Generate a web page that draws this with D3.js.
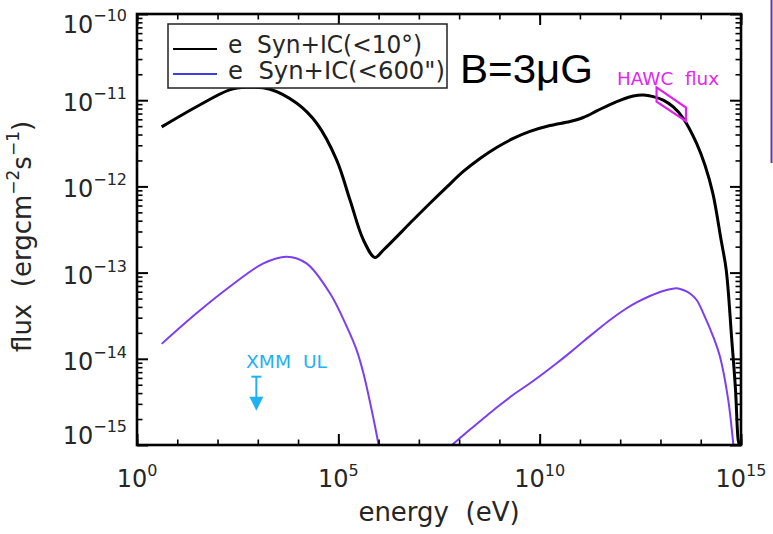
<!DOCTYPE html>
<html>
<head>
<meta charset="utf-8">
<script src="https://cdn.jsdelivr.net/npm/d3@7"></script>
<style>
  html, body { margin: 0; padding: 0; background: #fff; }
  svg { display: block; }
  text { white-space: pre; }
</style>
</head>
<body>
<svg id="chart" width="773" height="534"></svg>
<script>
// Electron synchrotron + inverse-Compton spectral energy distribution (B = 3 μG)

// Full region (<10°): energy in eV, flux in erg cm^-2 s^-1
const totalEnergy = [4.1e0, 3.0e1, 2.0e2, 5.2e2, 2.0e3, 9.3e3, 2.9e4, 9.1e4, 1.95e5, 4.2e5,
  8.1e5, 1.32e6, 7.2e6, 1.89e7, 4.91e7, 1.27e8, 3.30e8, 8.55e8, 2.21e9, 5.75e9, 1.80e10,
  5.66e10, 1.21e11, 2.61e11, 5.57e11, 1.19e12, 2.11e12, 3.74e12, 6.62e12, 1.17e13, 2.08e13,
  3.68e13, 7.9e13, 1.27e14, 2.0e14, 3.2e14, 4.3e14, 5.9e14, 7.3e14, 8.5e14, 9.1e14];
const totalFlux = [4.9e-12, 8.4e-12, 1.32e-11, 1.41e-11, 1.34e-11, 9.2e-12, 5.4e-12, 2.02e-12, 6.95e-13, 2.39e-13,
  1.50e-13, 1.83e-13, 4.07e-13, 6.37e-13, 9.8e-13, 1.49e-12, 2.11e-12, 2.83e-12, 3.60e-12, 4.34e-12, 5.08e-12,
  5.66e-12, 6.30e-12, 7.50e-12, 8.91e-12, 1.03e-11, 1.12e-11, 1.15e-11, 1.10e-11, 1.00e-11, 8.34e-12,
  6.17e-12, 3.16e-12, 1.77e-12, 8.3e-13, 2.4e-13, 1.07e-13, 1.66e-14, 4.4e-15, 1.15e-15, 1.0e-15];

// Inner region (<600"): synchrotron hump
const innerSynEnergy = [4.1e0, 3.0e1, 2.0e2, 1.38e3, 5.2e3, 1.62e4, 6.2e4, 1.62e5, 2.85e5, 4.2e5, 6.2e5, 9.8e5, 1.05e6];
const innerSynFlux = [1.49e-14, 3.37e-14, 6.85e-14, 1.28e-13, 1.53e-13, 1.28e-13, 5.75e-14, 2.36e-14, 1.26e-14, 6.8e-15, 3.05e-15, 1.05e-15, 8.5e-16];

// Inner region (<600"): inverse-Compton hump
const innerICEnergy = [6.5e7, 1.86e8, 3.98e8, 8.55e8, 2.21e9, 5.74e9, 1.23e10, 2.64e10, 5.65e10, 1.21e11,
  2.61e11, 5.57e11, 1.19e12, 2.56e12, 5.48e12, 1.17e13, 2.53e13, 3.68e13, 5.40e13, 7.92e13,
  1.16e14, 2.05e14, 3.00e14, 4.82e14, 6.41e14, 7.08e14];
const innerICFlux = [9.9e-16, 1.51e-15, 2.03e-15, 2.72e-15, 3.83e-15, 5.20e-15, 6.75e-15, 8.87e-15, 1.18e-14, 1.59e-14,
  2.13e-14, 2.82e-14, 3.63e-14, 4.50e-14, 5.35e-14, 6.12e-14, 6.58e-14, 6.28e-14, 5.73e-14, 4.81e-14,
  3.37e-14, 1.80e-14, 1.06e-14, 3.33e-15, 1.05e-15, 6.8e-16];

// HAWC flux band (bow-tie): energy edges and flux limits
const hawcEnergy = [8.0e12, 4.3e13];
const hawcUpper = [1.41e-11, 8.2e-12];
const hawcLower = [9.6e-12, 5.7e-12];

// XMM upper limit
const xmmEnergy = [9.2e2];
const xmmFlux = [6.2e-15];

// Axis ticks (decade exponents)
const xDecades = [0, 1, 2, 3, 4, 5, 6, 7, 8, 9, 10, 11, 12, 13, 14, 15];
const xLabelExps = ["0", "5", "10", "15"];
const yLabelExps = ["\u221210", "\u221211", "\u221212", "\u221213", "\u221214", "\u221215"];

const legendLabels = ["e  Syn+IC(<10\u00B0)", "e  Syn+IC(<600\")"];

const plot = { left: 137, right: 741, top: 14, bottom: 445 };
const svg = d3.select("#chart");

const x = d3.scaleLog().domain([1, 1e15]).range([plot.left, plot.right]);
const y = d3.scaleLog().domain([1e-15, 1e-10]).range([plot.bottom, plot.top]);

svg.append("defs").append("clipPath").attr("id", "plotClip")
  .append("rect")
  .attr("x", plot.left).attr("y", plot.top)
  .attr("width", plot.right - plot.left).attr("height", plot.bottom - plot.top);

const font = "'DejaVu Sans', sans-serif";
const textColor = "#262626";

// ----- curves -----
const line = d3.line()
  .x(d => x(d[0]))
  .y(d => y(d[1]))
  .curve(d3.curveCatmullRom.alpha(0.5));

const curves = svg.append("g").attr("clip-path", "url(#plotClip)");

curves.append("path")
  .attr("d", line(d3.zip(innerSynEnergy, innerSynFlux)))
  .attr("fill", "none").attr("stroke", "#7b3ff0").attr("stroke-width", 2);
curves.append("path")
  .attr("d", line(d3.zip(innerICEnergy, innerICFlux)))
  .attr("fill", "none").attr("stroke", "#7b3ff0").attr("stroke-width", 2);
curves.append("path")
  .attr("d", line(d3.zip(totalEnergy, totalFlux)))
  .attr("fill", "none").attr("stroke", "#000").attr("stroke-width", 3)
  .attr("stroke-linejoin", "round");

// ----- HAWC bow-tie -----
const hawcPts = [
  [hawcEnergy[0], hawcUpper[0]], [hawcEnergy[1], hawcUpper[1]],
  [hawcEnergy[1], hawcLower[1]], [hawcEnergy[0], hawcLower[0]]
];
svg.append("path")
  .attr("d", d3.line().x(d => x(d[0])).y(d => y(d[1]))(hawcPts) + "Z")
  .attr("fill", "none").attr("stroke", "#e020ec").attr("stroke-width", 2.2)
  .attr("stroke-linejoin", "miter");

svg.append("text")
  .attr("x", 617).attr("y", 85)
  .attr("font-family", font).attr("font-size", 18)
  .attr("fill", "#e028ee")
  .attr("textLength", 102).attr("lengthAdjust", "spacingAndGlyphs")
  .text("HAWC  flux");

// ----- XMM upper limit -----
const xmm = svg.append("g")
  .attr("transform", `translate(${x(xmmEnergy[0])},${y(xmmFlux[0])})`)
  .attr("stroke", "#1fb2f0").attr("fill", "#1fb2f0");
xmm.append("line").attr("x1", -5).attr("x2", 5).attr("y1", 0).attr("y2", 0).attr("stroke-width", 2);
xmm.append("line").attr("x1", 0).attr("x2", 0).attr("y1", 0).attr("y2", 21).attr("stroke-width", 2);
xmm.append("path").attr("d", "M-7,20L7,20L0,34Z").attr("stroke", "none");

svg.append("text")
  .attr("x", 246).attr("y", 368)
  .attr("font-family", font).attr("font-size", 18)
  .attr("fill", "#1fb2f0")
  .attr("textLength", 81).attr("lengthAdjust", "spacingAndGlyphs")
  .text("XMM  UL");

// ----- axes (inward ticks on all four sides) -----
const xMinor = xDecades.map(e => Math.pow(10, e));
const xMajor = xLabelExps.map(e => Math.pow(10, +e));
const yAll = y.ticks();
const yMajor = yAll.filter(v => Math.abs(Math.log10(v) - Math.round(Math.log10(v))) < 1e-9);
const yMinor = yAll.filter(v => !yMajor.includes(v));

function styleAxis(g, w) {
  g.select(".domain").remove();
  g.selectAll(".tick text").remove();
  g.selectAll(".tick line").attr("stroke", "#000").attr("stroke-width", w);
}

const axes = [
  [d3.axisBottom(x), `translate(0,${plot.bottom})`, xMinor, xMajor],
  [d3.axisTop(x), `translate(0,${plot.top})`, xMinor, xMajor],
  [d3.axisLeft(y), `translate(${plot.left},0)`, yMinor, yMajor],
  [d3.axisRight(y), `translate(${plot.right},0)`, yMinor, yMajor]
];
axes.forEach(([axis, tr, minor, major]) => {
  svg.append("g").attr("transform", tr)
    .call(axis.tickValues(minor).tickSize(-5.5).tickSizeOuter(0))
    .call(g => styleAxis(g, 1.6));
  svg.append("g").attr("transform", tr)
    .call(axis.tickValues(major).tickSize(-11).tickSizeOuter(0))
    .call(g => styleAxis(g, 2));
});

svg.append("rect")
  .attr("x", plot.left).attr("y", plot.top)
  .attr("width", plot.right - plot.left).attr("height", plot.bottom - plot.top)
  .attr("fill", "none").attr("stroke", "#000").attr("stroke-width", 2.6);

// ----- tick labels -----
xLabelExps.forEach(e => {
  const t = svg.append("text")
    .attr("x", x(Math.pow(10, +e))).attr("y", 487)
    .attr("text-anchor", "middle")
    .attr("font-family", font).attr("font-size", 24).attr("fill", textColor);
  t.append("tspan").text("10");
  t.append("tspan").attr("font-size", 16).attr("dy", -11).text(e);
});

yLabelExps.forEach(e => {
  const v = Math.pow(10, -(+e.slice(1)));
  const base = Math.min(Math.max(y(v) + 11, 33), 444);
  const t = svg.append("text")
    .attr("x", 127).attr("y", base)
    .attr("text-anchor", "end")
    .attr("font-family", font).attr("font-size", 24).attr("fill", textColor);
  t.append("tspan").text("10");
  t.append("tspan").attr("font-size", 16).attr("dy", -12).text(e);
});

// ----- axis titles -----
svg.append("text")
  .attr("x", (plot.left + plot.right) / 2).attr("y", 521)
  .attr("text-anchor", "middle")
  .attr("font-family", font).attr("font-size", 26).attr("fill", textColor)
  .text("energy  (eV)");

const yt = svg.append("text")
  .attr("transform", "translate(31,352) rotate(-90)")
  .attr("font-family", font).attr("font-size", 26).attr("fill", textColor);
yt.append("tspan").text("flux  (ergcm");
yt.append("tspan").attr("font-size", 17).attr("dy", -12).text("\u22122");
yt.append("tspan").attr("dy", 12).text("s");
yt.append("tspan").attr("font-size", 17).attr("dy", -12).text("\u22121");
yt.append("tspan").attr("dy", 12).text(")");

// ----- legend -----
const legend = svg.append("g");
legend.append("rect")
  .attr("x", 168).attr("y", 24).attr("width", 279).attr("height", 64)
  .attr("fill", "#fff").attr("stroke", "#222").attr("stroke-width", 1.5);
const legendColors = ["#000", "#3d3ae6"];
const legendWidths = [194, 217];
legendLabels.forEach((lab, i) => {
  const ly = 49 + i * 25;
  legend.append("line")
    .attr("x1", 173).attr("x2", 217).attr("y1", ly).attr("y2", ly)
    .attr("stroke", legendColors[i]).attr("stroke-width", 2);
  legend.append("text")
    .attr("x", 228).attr("y", ly + 4 + i)
    .attr("font-family", font).attr("font-size", 24).attr("fill", textColor)
    .attr("textLength", legendWidths[i]).attr("lengthAdjust", "spacingAndGlyphs")
    .text(lab);
});

// ----- field-strength annotation -----
svg.append("text")
  .attr("x", 460).attr("y", 83)
  .attr("font-family", "'Liberation Sans', Arial, sans-serif").attr("font-size", 41)
  .attr("fill", "#000")
  .attr("textLength", 133).attr("lengthAdjust", "spacingAndGlyphs")
  .text("B=3\u03BCG");

// edge of neighbouring panel frame
svg.append("line")
  .attr("x1", 771.5).attr("x2", 771.5).attr("y1", 0).attr("y2", 163)
  .attr("stroke", "#7030a0").attr("stroke-width", 2);
</script>
</body>
</html>
